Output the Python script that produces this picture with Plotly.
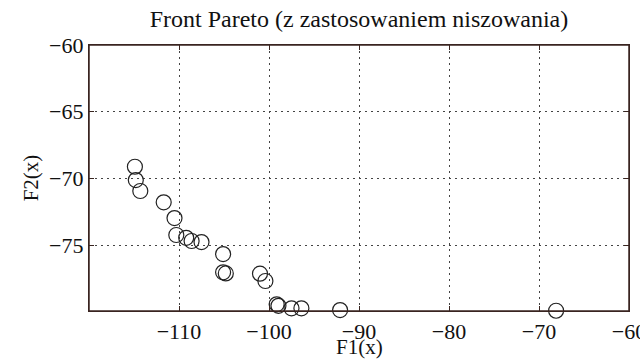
import plotly.graph_objects as go

f1 = [-114.9, -114.8, -114.3, -111.7, -110.5, -110.3, -109.2, -108.6, -107.5,
      -105.1, -105.1, -104.8, -101.0, -100.4, -99.15, -98.95, -97.5, -96.4,
      -92.1, -68.1]
f2 = [-69.13, -70.13, -70.95, -71.8, -72.98, -74.25, -74.46, -74.7, -74.78,
      -75.68, -77.05, -77.13, -77.15, -77.7, -79.45, -79.56, -79.75, -79.75,
      -79.88, -79.93]

xticks = [-110, -100, -90, -80, -70, -60]
yticks = [-75, -70, -65, -60]

font = dict(family="Liberation Serif", size=22, color="#111")
title_font = dict(family="Liberation Serif", size=21, color="#111")
line_col = "#3a2520"

fig = go.Figure(go.Scatter(
    x=f1, y=f2, mode="markers",
    marker=dict(symbol="circle-open", size=15, color="#222", line=dict(width=1.2)),
    cliponaxis=False,
))

axis_common = dict(
    showline=True, linecolor=line_col, linewidth=1.3, mirror="ticks",
    ticks="inside", ticklen=5, tickcolor=line_col,
    showgrid=True, gridcolor="#444", griddash="2px,4px", gridwidth=1,
    zeroline=False, tickfont=font, automargin=False, ticklabeloverflow="allow",
)

fig.update_layout(
    width=640, height=360,
    margin=dict(l=89, r=11, t=45, b=49),
    paper_bgcolor="white", plot_bgcolor="white",
    showlegend=False,
    font=font,
    title=dict(text="Front Pareto (z zastosowaniem niszowania)", x=359 / 640, xanchor="center",
               y=1 - 19 / 360, yanchor="middle",
               font=dict(family="Liberation Serif", size=24, color="#111")),
    xaxis=dict(range=[-120, -60], tickvals=xticks, ticktext=[f"\u2212{abs(v)}" for v in xticks],
               **axis_common),
    yaxis=dict(range=[-79.95, -60], tickvals=yticks, ticktext=[f"\u2212{abs(v)}" for v in yticks],
               title=dict(text="F2(x)", standoff=4, font=title_font),
               **axis_common),
    annotations=[dict(text="F1(x)", xref="paper", yref="paper", x=0.5, y=-0.136,
                      xanchor="center", yanchor="middle", showarrow=False, font=title_font)],
    shapes=[dict(type="rect", xref="paper", yref="paper", x0=0, x1=1, y0=0, y1=1,
                 line=dict(color=line_col, width=1.5), layer="above")],
)

# remove the default 8px page margin so the 640x360 figure fills the window exactly
fig.write_html("out.html", config={"displayModeBar": False},
               post_script="document.body.style.margin='0';document.body.style.overflow='hidden';")
